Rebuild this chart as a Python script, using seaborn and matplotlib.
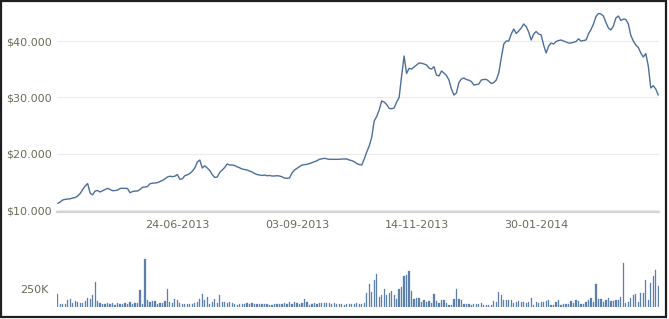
import numpy as np
import pandas as pd
import matplotlib
matplotlib.use("Agg")
import matplotlib.pyplot as plt
from matplotlib.patches import Rectangle
import seaborn as sns

# ---- data (trading-day index based) ----
price = [
    11190, 11420, 11780, 11900, 11950, 11990, 12130, 12220, 12490, 12930,
    13640, 14260, 14700, 13000, 12700, 13370, 13460, 13200, 13430, 13640,
    13850, 13640, 13430, 13460, 13550, 13820, 13850, 13850, 13820, 13070,
    13280, 13370, 13370, 13640, 14030, 14080, 14170, 14650, 14760, 14800,
    14850, 15060, 15240, 15510, 15860, 16000, 15920, 16000, 16300, 15450,
    15540, 16090, 16250, 16480, 16890, 17460, 18520, 18880, 17460, 17850,
    17460, 17020, 16300, 15770, 15860, 16660, 17100, 17550, 18170, 17990,
    17990, 17900, 17670, 17490, 17280, 17190, 17100, 16930, 16750, 16480,
    16300, 16220, 16130, 16220, 16090, 16130, 16040, 16040, 16090, 16040,
    15900, 15680, 15630, 15680, 16570, 17100, 17400, 17720, 17990, 18060,
    18110, 18250, 18420, 18580, 18740, 19000, 19090, 19180, 19090, 19000,
    19000, 19000, 19000, 19000, 19060, 19060, 19060, 18880, 18770, 18580,
    18250, 18080, 17990, 19060, 20300, 21370, 22880, 25810, 26610, 27760,
    29360, 29180, 28740, 28060, 27980, 28120, 29180, 29980, 33800, 37350,
    34250, 35150, 35040, 35400, 35760, 36110, 36070, 35930, 35760, 35220,
    35040, 35450, 33970, 33800, 34690, 34330, 33890, 33090, 31490, 30420,
    30780, 32640, 33270, 33440, 33180, 33050, 32820, 32200, 32290, 32380,
    33090, 33180, 33200, 32880, 32470, 32640, 33090, 34330, 37000, 39480,
    40010, 40010, 41260, 42150, 41350, 41790, 42320, 43030, 42590, 41610,
    40190, 41260, 41700, 41260, 41080, 39300, 37880, 39120, 39660, 39480,
    39930, 40100, 40190, 40010, 39840, 39660, 39660, 39780, 39930, 40400,
    40010, 40100, 40190, 41260, 42050, 43030, 44370, 44900, 44810, 44450,
    43300, 42320, 41970, 42680, 44100, 44450, 43660, 43920, 43830, 43030,
    40990, 40010, 39300, 38860, 37880, 37170, 37790, 35570, 31670, 32080,
    31490, 30420,
]

volume_k = [
    185, 45, 35, 45, 100, 115, 50, 85, 70, 50,
    60, 90, 130, 105, 160, 345, 80, 60, 45, 40,
    55, 35, 60, 30, 55, 45, 40, 50, 45, 70,
    45, 50, 60, 240, 45, 660, 95, 70, 85, 85,
    40, 55, 50, 85, 250, 70, 55, 115, 95, 60,
    45, 35, 40, 35, 40, 50, 70, 115, 175, 100,
    140, 45, 70, 105, 55, 160, 70, 70, 55, 70,
    55, 35, 30, 35, 35, 45, 60, 45, 50, 40,
    40, 45, 35, 45, 35, 30, 25, 40, 35, 45,
    40, 55, 45, 75, 40, 65, 55, 45, 50, 115,
    70, 30, 45, 55, 40, 60, 55, 60, 55, 50,
    45, 55, 40, 35, 40, 30, 45, 40, 35, 45,
    50, 40, 45, 50, 200, 315, 208, 370, 454, 140,
    170, 255, 170, 195, 222, 160, 116, 255, 278, 431,
    440, 500, 222, 116, 130, 130, 70, 93, 70, 83,
    55, 185, 83, 55, 93, 102, 55, 25, 25, 115,
    255, 116, 102, 46, 46, 46, 30, 35, 46, 35,
    55, 25, 25, 30, 25, 83, 70, 208, 170, 100,
    93, 100, 100, 55, 70, 83, 70, 70, 55, 70,
    130, 25, 70, 55, 70, 70, 83, 93, 25, 25,
    70, 102, 25, 35, 46, 46, 83, 55, 93, 83,
    35, 46, 70, 102, 125, 70, 315, 116, 116, 70,
    102, 130, 83, 83, 93, 93, 140, 616, 55, 70,
    130, 162, 185, 70, 195, 195, 380, 100, 333, 425,
    520, 287,
]

date_tick_idx = [0, 48, 96, 144, 192]
date_tick_labels = ["", "24-06-2013", "03-09-2013", "14-11-2013", "30-01-2014"]
price_ticks = [10000, 20000, 30000, 40000]
price_tick_labels = ["$10.000", "$20.000", "$30.000", "$40.000"]
vol_ticks = [250000]
vol_tick_labels = ["250K"]

df = pd.DataFrame({
    "idx": np.arange(len(price)),
    "price": price,
    "volume": np.array(volume_k) * 1000,
})

sns.set_style("white")
plt.rcParams["font.family"] = ["DejaVu Sans"]

W, H = 669, 319
fig = plt.figure(figsize=(W / 100, H / 100), dpi=100)
fig.patch.set_facecolor("white")

LINE_C = "#4d6f98"
BAR_C = "#5a80ab"
TXT_C = "#6b6a58"

ax = fig.add_axes([57 / W, (H - 211.7) / H, 602 / W, 204.4 / H])
axv = fig.add_axes([57 / W, 12 / H, 602 / W, 52 / H])

sns.lineplot(data=df, x="idx", y="price", ax=ax, color=LINE_C, linewidth=1.0)
sns.barplot(data=df, x="idx", y="volume", ax=axv, native_scale=True,
            color=BAR_C, width=0.5, errorbar=None, saturation=1,
            edgecolor=BAR_C, linewidth=0.2)

# price axis styling
ax.set_xlim(-0.3, len(price) - 0.7)
ax.set_ylim(9700, 46000)
ax.set_yticks(price_ticks)
ax.set_yticklabels(price_tick_labels)
ax.set_xticks(date_tick_idx)
ax.set_xticklabels(date_tick_labels)
ax.set_xlabel("")
ax.set_ylabel("")
for s in ["top", "right", "left"]:
    ax.spines[s].set_visible(False)
ax.spines["bottom"].set_color("#d4d4d4")
ax.spines["bottom"].set_linewidth(1.6)
ax.grid(axis="y", color="#ececec", linewidth=0.8)
ax.grid(axis="x", visible=False)
ax.tick_params(axis="y", length=0, pad=4, labelsize=8, labelcolor=TXT_C)
ax.tick_params(axis="x", length=3, width=0.8, color="#c8c8c8", pad=3,
               labelsize=8, labelcolor=TXT_C, direction="out")
ax.set_facecolor("white")

# volume axis styling
axv.set_xlim(-0.3, len(price) - 0.7)
axv.set_ylim(0, 722000)
axv.set_yticks(vol_ticks)
axv.set_yticklabels(vol_tick_labels)
axv.set_xticks([])
axv.set_xlabel("")
axv.set_ylabel("")
for s in ["top", "right", "left", "bottom"]:
    axv.spines[s].set_visible(False)
axv.grid(False)
axv.tick_params(axis="y", length=0, pad=6, labelsize=8, labelcolor=TXT_C)
axv.set_facecolor("none")

# outer frame
fig.patches.append(Rectangle((1.2 / W, 2.5 / H), 664.5 / W, 315.3 / H,
                             transform=fig.transFigure, fill=False,
                             edgecolor="#1e1e1e", linewidth=1.6))

fig.savefig("out.png", dpi=100, facecolor="white")
